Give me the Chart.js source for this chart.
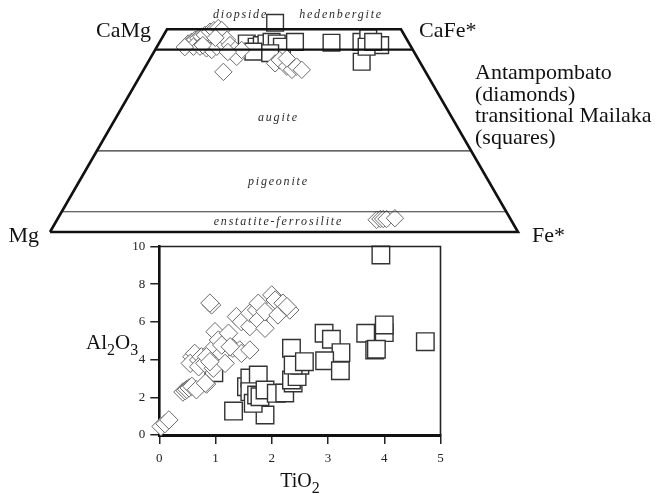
<!DOCTYPE html>
<html>
<head>
<meta charset="utf-8">
<script src="https://cdn.jsdelivr.net/npm/chart.js@4.4.1/dist/chart.umd.min.js"></script>
<style>
  html, body { margin: 0; padding: 0; background: #ffffff; }
  #wrap { position: relative; width: 655px; height: 494px; }
  #wrap canvas { position: absolute; left: 0; top: 0; }
</style>
</head>
<body>
<div id="wrap">
  <canvas id="quad" width="655" height="494"></canvas>
  <canvas id="xy" width="655" height="494"></canvas>
</div>
<script>
// ---------- Pyroxene quadrilateral (Wo / Fs in mol %) ----------
const quadDiamondWo = [46.5, 46.9, 47.4, 47.8, 48.2, 48.6, 49.4, 49.8, 50.3, 49.8,
  45.7, 45.7, 45.3, 44.9, 45.7, 46.5, 47.4, 46.1, 44.9, 43.2, 44.9, 39.5,
  45.6, 46.1, 47.9, 44.4,
  41.6, 42.4, 40.8, 40.0, 40.8, 40.0, 42.8,
  3.0, 3.2, 3.2, 3.2, 3.4];
const quadDiamondFs = [6.3, 6.8, 7.3, 7.8, 8.3, 8.8, 9.5, 10.1, 10.8, 11.8,
  7.8, 9.2, 10.8, 12.1, 12.8, 13.8, 14.1, 15.4, 17.1, 18.3, 18.5, 17.3,
  6.0, 9.6, 11.4, 15.8,
  27.3, 27.9, 30.2, 31.7, 32.3, 33.8, 29.2,
  68.3, 69.0, 69.6, 70.3, 72.0];

const quadSquareWo = [51.6, 46.5, 45.7, 46.1, 46.5, 46.9, 46.5, 45.7, 46.9, 44.5, 44.1,
  46.7, 46.9, 47.8, 46.1, 42.0, 45.7, 46.9];
const quadSquareFs = [22.3, 18.8, 21.3, 22.2, 23.0, 23.9, 25.2, 26.7, 28.9, 21.2, 25.0,
  36.8, 43.1, 44.1, 47.5, 45.6, 44.8, 45.6];

// field boundaries (Wo %) inside the quadrilateral
const outlineWo = 50;
const boundaryThickWo = [45];
const boundaryThinWo = [20, 5];

// corner and field names
const cornerLabels = ['CaMg', 'CaFe*', 'Mg', 'Fe*'];
const fieldLabels = ['diopside', 'hedenbergite', 'augite', 'pigeonite', 'enstatite-ferrosilite'];
const legendLines = ['Antampombato', '(diamonds)', 'transitional Mailaka', '(squares)'];

// ---------- Al2O3 vs TiO2 (wt %) ----------
const tio2Diamond = [0.03, 0.10, 0.17,
  0.42, 0.46, 0.49, 0.53, 0.58, 0.66, 0.84,
  0.93, 0.90,
  0.58, 0.63, 0.55, 0.70, 0.75, 0.70, 0.81, 0.96, 0.93, 0.99, 1.05, 1.11, 1.17,
  1.23, 1.31, 1.43, 1.46, 1.37, 1.46, 1.61, 1.61, 1.73, 1.76, 1.76, 1.88, 1.88,
  2.00, 2.06, 2.11, 2.20, 2.32, 2.27, 0.84, 0.90, 0.82, 1.11, 1.26, 1.61];
const al2o3Diamond = [0.45, 0.60, 0.80,
  2.28, 2.35, 2.42, 2.50, 2.58, 2.40, 2.70,
  6.90, 7.00,
  4.15, 4.33, 3.80, 3.98, 4.15, 3.62, 3.80, 3.54, 4.51, 5.48, 5.04, 4.33, 3.80,
  5.40, 4.60, 4.51, 4.33, 6.28, 6.01, 5.75, 6.46, 6.63, 6.99, 6.10, 5.66, 6.54,
  7.43, 7.16, 6.37, 6.99, 6.63, 6.81, 4.15, 3.89, 2.75, 4.77, 4.68, 4.51];

const tio2Square = [1.32, 1.88, 0.97, 1.55, 1.61, 1.76, 1.61, 1.67, 1.73, 1.79, 1.88, 2.08,
  2.23, 2.38, 2.35, 2.45, 2.50, 2.35, 2.38, 2.58,
  2.93, 3.06, 3.23, 2.94, 3.22, 3.67, 4.00, 4.00, 3.83, 3.86, 4.73, 3.94];
const al2o3Square = [1.27, 1.06, 3.30, 2.56, 3.02, 3.18, 2.30, 1.68, 2.12, 2.03, 2.39, 2.21,
  2.23, 2.76, 2.92, 3.10, 3.70, 4.60, 3.71, 3.89,
  5.40, 5.08, 4.37, 3.94, 3.41, 5.40, 5.43, 5.84, 4.51, 4.55, 4.95, 9.55];

const xTicks = [0, 1, 2, 3, 4, 5];
const yTicks = [0, 2, 4, 6, 8, 10];

// ---------- shared styling ----------
const SERIF = "'Liberation Serif', 'DejaVu Serif', serif";
const INK = '#111111';

function pairs(xs, ys) { return xs.map((x, i) => ({ x: x, y: ys[i] })); }
// ternary projection of the quadrilateral: horizontal = Fs + Wo/2
function quadPoints(wo, fs) { return wo.map((w, i) => ({ x: fs[i] + w / 2, y: w })); }
function hLine(wo) { return [{ x: wo / 2, y: wo }, { x: 100 - wo / 2, y: wo }]; }

const lineBase = { type: 'line', showLine: true, pointRadius: 0, fill: false,
  borderJoinStyle: 'miter', borderCapStyle: 'butt', tension: 0, clip: false, order: 0 };

const quadDatasets = [
  Object.assign({}, lineBase, {
    data: [{ x: 0, y: 0 }, { x: outlineWo / 2, y: outlineWo }, { x: 100 - outlineWo / 2, y: outlineWo },
           { x: 100, y: 0 }, { x: 0, y: 0 }],
    borderColor: INK, borderWidth: 2.6
  }),
  ...boundaryThickWo.map(w => Object.assign({}, lineBase, { data: hLine(w), borderColor: INK, borderWidth: 2.2 })),
  ...boundaryThinWo.map(w => Object.assign({}, lineBase, { data: hLine(w), borderColor: '#333333', borderWidth: 1.2 })),
  {
    label: 'Antampombato', data: quadPoints(quadDiamondWo, quadDiamondFs),
    pointStyle: 'rectRot', pointRadius: 8.7, borderColor: '#6a6a6a', borderWidth: 1,
    backgroundColor: '#ffffff', clip: false, order: 1
  },
  {
    label: 'transitional Mailaka', data: quadPoints(quadSquareWo, quadSquareFs),
    pointStyle: 'rect', pointRadius: 11.8, borderColor: '#333333', borderWidth: 1.4,
    backgroundColor: '#ffffff', clip: false, order: 2
  }
];

const quadText = {
  id: 'quadText',
  afterDraw(chart) {
    const { ctx, scales: { x, y } } = chart;
    ctx.save();
    ctx.fillStyle = INK;
    ctx.font = '22px ' + SERIF;
    ctx.textBaseline = 'alphabetic';
    const topY = y.getPixelForValue(outlineWo), botY = y.getPixelForValue(0);
    ctx.textAlign = 'right';
    ctx.fillText(cornerLabels[0], x.getPixelForValue(25) - 16, topY + 8);
    ctx.fillText(cornerLabels[2], x.getPixelForValue(0) - 11, botY + 10);
    ctx.textAlign = 'left';
    ctx.fillText(cornerLabels[1], x.getPixelForValue(75) + 18, topY + 8);
    ctx.fillText(cornerLabels[3], x.getPixelForValue(100) + 14, botY + 10);

    legendLines.forEach((t, i) => ctx.fillText(t, 475, 79 + i * 21.5));

    ctx.fillStyle = '#2a2a2a';
    ctx.font = 'italic 12px ' + SERIF;
    ctx.letterSpacing = '1.8px';
    ctx.textAlign = 'center';
    ctx.textBaseline = 'middle';
    ctx.fillText(fieldLabels[0], x.getPixelForValue(40.7), y.getPixelForValue(53.5));
    ctx.fillText(fieldLabels[1], x.getPixelForValue(62.2), y.getPixelForValue(53.5));
    ctx.fillText(fieldLabels[2], x.getPixelForValue(48.8), y.getPixelForValue(28.1));
    ctx.fillText(fieldLabels[3], x.getPixelForValue(48.8), y.getPixelForValue(12.3));
    ctx.fillText(fieldLabels[4], x.getPixelForValue(48.8), y.getPixelForValue(2.4));
    ctx.restore();
  }
};

new Chart(document.getElementById('quad'), {
  type: 'scatter',
  data: { datasets: quadDatasets },
  options: {
    responsive: false, animation: false, events: [],
    layout: { padding: { left: 50, right: 655 - 518, top: 29.3, bottom: 494 - 232 } },
    scales: {
      x: { type: 'linear', display: false, min: 0, max: 100 },
      y: { type: 'linear', display: false, min: 0, max: 50 }
    },
    plugins: { legend: { display: false }, tooltip: { enabled: false } }
  },
  plugins: [quadText]
});

// ---------- Al2O3 vs TiO2 scatter ----------
function drawFormula(ctx, parts, x, y, size, align) {
  const subSize = Math.round(size * 0.78);
  const widths = parts.map(p => {
    ctx.font = (p.sub ? subSize : size) + 'px ' + SERIF;
    return ctx.measureText(p.t).width;
  });
  const total = widths.reduce((a, b) => a + b, 0);
  let cx = align === 'center' ? x - total / 2 : x;
  parts.forEach((p, i) => {
    ctx.font = (p.sub ? subSize : size) + 'px ' + SERIF;
    ctx.fillText(p.t, cx, p.sub ? y + size * 0.28 : y);
    cx += widths[i];
  });
}

const frameAndTitles = {
  id: 'frameAndTitles',
  afterDraw(chart) {
    const { ctx, chartArea: a, scales: { x } } = chart;
    ctx.save();
    ctx.strokeStyle = '#222222';
    ctx.lineWidth = 1.6;
    ctx.beginPath();
    ctx.moveTo(a.left, a.top);
    ctx.lineTo(a.right, a.top);
    ctx.lineTo(a.right, a.bottom);
    ctx.stroke();

    ctx.fillStyle = INK;
    ctx.textAlign = 'left';
    ctx.textBaseline = 'alphabetic';
    drawFormula(ctx, [{ t: 'TiO' }, { t: '2', sub: true }], x.getPixelForValue(2.5), 487, 20, 'center');
    drawFormula(ctx, [{ t: 'Al' }, { t: '2', sub: true }, { t: 'O' }, { t: '3', sub: true }], 86, 349, 21, 'left');
    ctx.restore();
  }
};

const tickFont = { family: SERIF, size: 13 };

new Chart(document.getElementById('xy'), {
  type: 'scatter',
  data: {
    datasets: [
      {
        label: 'Antampombato', data: pairs(tio2Diamond, al2o3Diamond),
        pointStyle: 'rectRot', pointRadius: 9.2, borderColor: '#6a6a6a', borderWidth: 1,
        backgroundColor: '#ffffff', clip: false, order: 1
      },
      {
        label: 'transitional Mailaka', data: pairs(tio2Square, al2o3Square),
        pointStyle: 'rect', pointRadius: 12.4, borderColor: '#333333', borderWidth: 1.4,
        backgroundColor: '#ffffff', clip: false, order: 2
      }
    ]
  },
  options: {
    responsive: false, animation: false, events: [],
    layout: { padding: { left: 0, right: 655 - 440.5, top: 246.5, bottom: 0 } },
    scales: {
      x: {
        type: 'linear', min: xTicks[0], max: xTicks[xTicks.length - 1],
        afterBuildTicks: s => { s.ticks = xTicks.map(v => ({ value: v })); },
        afterFit: s => { s.height = 494 - 435; },
        ticks: { font: tickFont, color: '#222222', padding: 7 },
        grid: { drawOnChartArea: false, drawTicks: true, tickLength: 9, color: '#222222', lineWidth: 1.5 },
        border: { display: true, color: INK, width: 3 }
      },
      y: {
        type: 'linear', min: yTicks[0], max: yTicks[yTicks.length - 1],
        afterBuildTicks: s => { s.ticks = yTicks.map(v => ({ value: v })); },
        afterFit: s => { s.width = 159.3; },
        ticks: { font: tickFont, color: '#222222', padding: 5 },
        grid: { drawOnChartArea: false, drawTicks: true, tickLength: 9, color: '#222222', lineWidth: 1.5 },
        border: { display: true, color: INK, width: 2.6 }
      }
    },
    plugins: { legend: { display: false }, tooltip: { enabled: false } }
  },
  plugins: [frameAndTitles]
});
</script>
</body>
</html>
